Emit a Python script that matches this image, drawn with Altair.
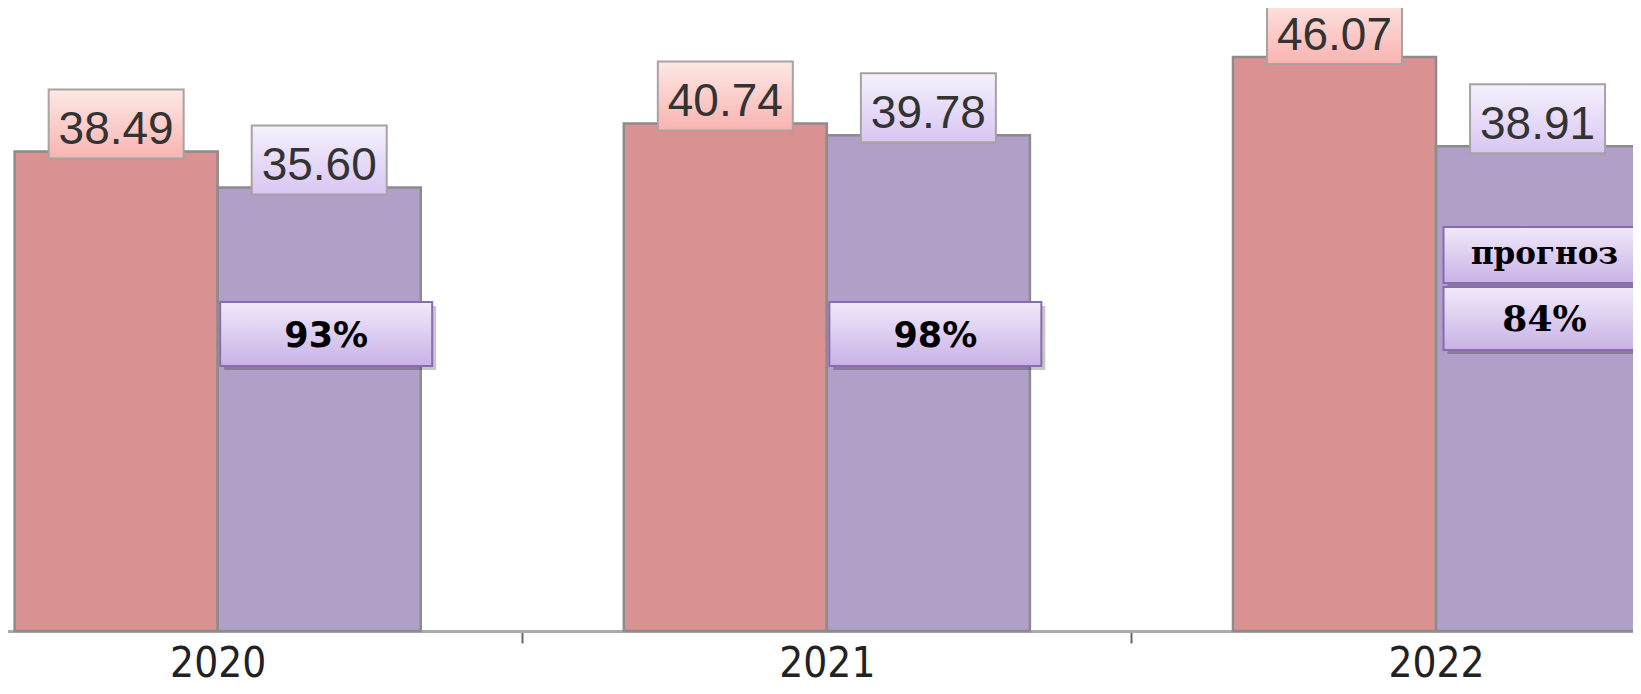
import altair as alt
import pandas as pd

# ---- data ----
years = ["2020", "2021", "2022"]
plan_values = [38.49, 40.74, 46.07]
fact_values = [35.60, 39.78, 38.91]
series_names = ["План", "Факт"]

pct_years = ["2020", "2021"]
pct_labels = ["93%", "98%"]
forecast_year = ["2022"]
forecast_word = ["прогноз"]
forecast_pct = ["84%"]

rows = []
for y, p, f in zip(years, plan_values, fact_values):
    rows.append({"year": y, "series": series_names[0], "value": p, "label": f"{p:.2f}"})
    rows.append({"year": y, "series": series_names[1], "value": f, "label": f"{f:.2f}"})
df = pd.DataFrame(rows)
df_pct = pd.DataFrame({"year": pct_years, "label": pct_labels})
df_fc1 = pd.DataFrame({"year": forecast_year, "label": forecast_word})
df_fc2 = pd.DataFrame({"year": forecast_year, "label": forecast_pct})

# ---- styling ----
W, H = 1625, 623
STEP_HALF = 304.6
x_scale = alt.Scale(domain=years, range=[209.7 - STEP_HALF, 1428 + STEP_HALF],
                    paddingInner=0, paddingOuter=0)
xo_scale = alt.Scale(domain=series_names, paddingOuter=0.5, paddingInner=0)
y_scale = alt.Scale(domain=[0, 50], nice=False, zero=True)

X = alt.X("year:N", scale=x_scale, sort=years, title=None,
          axis=alt.Axis(tickBand="extent", labelAngle=0, domainColor="#aaaaaa",
                        domainWidth=3, tickColor="#666666", tickWidth=2, tickSize=12,
                        labelPadding=0, labelFontSize=42, labelColor="#222222",
                        labelFont="Liberation Sans Narrow, Arial Narrow, DejaVu Sans Condensed, Liberation Sans, sans-serif",
                        grid=False))
XO = alt.XOffset("series:N", scale=xo_scale, sort=series_names)
Y = alt.Y("value:Q", scale=y_scale, axis=None)

def grad(c1, c2):
    return alt.LinearGradient(gradient="linear",
                              stops=[alt.GradientStop(color=c1, offset=0),
                                     alt.GradientStop(color=c2, offset=1)],
                              x1=0, x2=0, y1=0, y2=1)

base = alt.Chart(df)

bars = base.mark_bar(stroke="#8c8c8c", strokeWidth=2.5).encode(
    x=X, xOffset=XO, y=Y,
    color=alt.Color("series:N", scale=alt.Scale(domain=series_names,
                                                range=["#d99191", "#b09fc6"]), legend=None),
)

box_plan = base.transform_filter(alt.datum.series == series_names[0]).mark_bar(
    width=135, yOffset=-62, y2Offset=7, fill=grad("#fde8e5", "#f8b4b1"),
    stroke="#a9a2a2", strokeWidth=2).encode(x=X, xOffset=XO, y=Y, y2="value:Q")
box_fact = base.transform_filter(alt.datum.series == series_names[1]).mark_bar(
    width=135, yOffset=-62, y2Offset=7, fill=grad("#f6f1fd", "#d8c6f2"),
    stroke="#a9a2a2", strokeWidth=2).encode(x=X, xOffset=XO, y=Y, y2="value:Q")

val_text = base.mark_text(dy=-21, fontSize=46, color="#333333", baseline="middle",
                          font="Liberation Sans, Arial, sans-serif").encode(
    x=X, xOffset=XO, y=Y, text="label:N")

PX = 108.5
pct_grad = grad("#f1e9fa", "#c8b2e6")

def box_layer(data, top, bottom, width):
    shadow = alt.Chart(data).mark_bar(width=width, xOffset=PX + 4, color="#000000",
                                      opacity=0.22).encode(
        x=X, y=alt.value(top + 4), y2=alt.value(bottom + 4))
    box = alt.Chart(data).mark_bar(width=width, xOffset=PX, fill=pct_grad,
                                   stroke="#8a6bb0", strokeWidth=2).encode(
        x=X, y=alt.value(top), y2=alt.value(bottom))
    return shadow + box

pct_boxes = box_layer(df_pct, 294, 358, 212)
pct_text = alt.Chart(df_pct).mark_text(dx=PX, fontSize=35, fontWeight="bold",
                                       font="DejaVu Sans, Verdana, sans-serif",
                                       color="#000000", baseline="middle").encode(
    x=X, y=alt.value(328), text="label:N")

fc_boxes1 = box_layer(df_fc1, 219, 275, 202)
fc_boxes2 = box_layer(df_fc2, 279, 342, 202)
fc_text1 = alt.Chart(df_fc1).mark_text(dx=PX, fontSize=31, fontWeight="bold",
                                       font="DejaVu Serif, serif", color="#000000",
                                       baseline="middle").encode(
    x=X, y=alt.value(247), text="label:N")
fc_text2 = alt.Chart(df_fc2).mark_text(dx=PX, fontSize=36, fontWeight="bold",
                                       font="DejaVu Serif, serif", color="#000000",
                                       baseline="middle").encode(
    x=X, y=alt.value(312), text="label:N")

chart = alt.layer(
    bars, box_plan, box_fact, val_text,
    pct_boxes, pct_text, fc_boxes1, fc_boxes2, fc_text1, fc_text2
).properties(
    width=W, height=H,
    autosize=alt.AutoSizeParams(type="none"),
    padding={"left": 0, "top": 0, "right": 0, "bottom": 55},
    view=alt.ViewBackground(stroke="transparent", strokeWidth=0),
).configure_view(strokeWidth=0, stroke="transparent").configure(background="white")

chart.save("out.html", embed_options={"renderer": "svg", "actions": False})
